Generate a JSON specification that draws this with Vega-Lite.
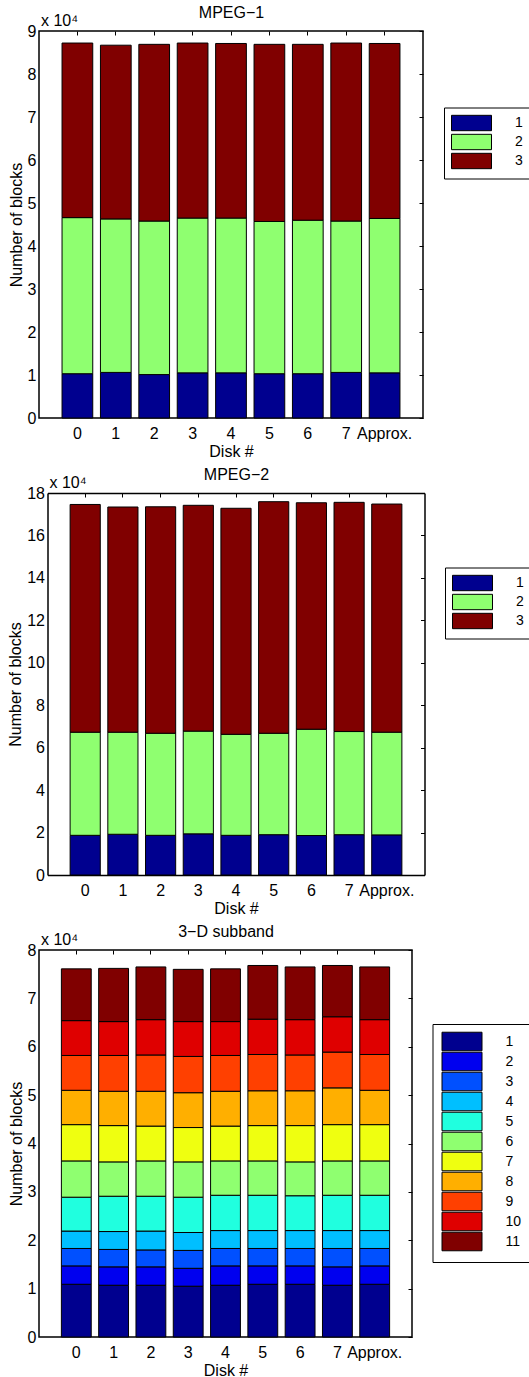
{
  "$schema": "https://vega.github.io/schema/vega-lite/v6.json",
  "background": "white",
  "padding": {"left": 7, "top": 3, "right": 5, "bottom": 2},
  "config": {
    "font": "Liberation Sans",
    "view": {"stroke": "black", "strokeWidth": 1.5},
    "bar": {"stroke": "black", "strokeWidth": 1},
    "axis": {
      "labelFont": "Liberation Sans", "titleFont": "Liberation Sans",
      "labelFontSize": 16, "titleFontSize": 16, "titleFontWeight": "normal",
      "labelColor": "black", "titleColor": "black",
      "tickColor": "black", "domainColor": "black", "domainWidth": 1.5, "tickWidth": 1, "grid": false
    },
    "legend": {
      "orient": "none", "strokeColor": "black", "fillColor": "white",
      "symbolSize": 256, "symbolStrokeColor": "black", "symbolStrokeWidth": 1, "symbolOpacity": 1,
      "labelFont": "Liberation Sans", "labelFontSize": 14, "labelColor": "black"
    }
  },
  "datasets": {
    "mpeg1": [
      {"disk": "0", "band": 1, "blocks": 10300}, {"disk": "0", "band": 2, "blocks": 36300}, {"disk": "0", "band": 3, "blocks": 40600},
      {"disk": "1", "band": 1, "blocks": 10600}, {"disk": "1", "band": 2, "blocks": 35700}, {"disk": "1", "band": 3, "blocks": 40400},
      {"disk": "2", "band": 1, "blocks": 10100}, {"disk": "2", "band": 2, "blocks": 35700}, {"disk": "2", "band": 3, "blocks": 41100},
      {"disk": "3", "band": 1, "blocks": 10500}, {"disk": "3", "band": 2, "blocks": 36000}, {"disk": "3", "band": 3, "blocks": 40700},
      {"disk": "4", "band": 1, "blocks": 10500}, {"disk": "4", "band": 2, "blocks": 36000}, {"disk": "4", "band": 3, "blocks": 40600},
      {"disk": "5", "band": 1, "blocks": 10300}, {"disk": "5", "band": 2, "blocks": 35400}, {"disk": "5", "band": 3, "blocks": 41200},
      {"disk": "6", "band": 1, "blocks": 10300}, {"disk": "6", "band": 2, "blocks": 35700}, {"disk": "6", "band": 3, "blocks": 40900},
      {"disk": "7", "band": 1, "blocks": 10600}, {"disk": "7", "band": 2, "blocks": 35200}, {"disk": "7", "band": 3, "blocks": 41400},
      {"disk": "Approx.", "band": 1, "blocks": 10500}, {"disk": "Approx.", "band": 2, "blocks": 35900}, {"disk": "Approx.", "band": 3, "blocks": 40700}
    ],
    "mpeg2": [
      {"disk": "0", "band": 1, "blocks": 18700}, {"disk": "0", "band": 2, "blocks": 48600}, {"disk": "0", "band": 3, "blocks": 107300},
      {"disk": "1", "band": 1, "blocks": 19200}, {"disk": "1", "band": 2, "blocks": 48100}, {"disk": "1", "band": 3, "blocks": 106100},
      {"disk": "2", "band": 1, "blocks": 18700}, {"disk": "2", "band": 2, "blocks": 48100}, {"disk": "2", "band": 3, "blocks": 106700},
      {"disk": "3", "band": 1, "blocks": 19400}, {"disk": "3", "band": 2, "blocks": 48400}, {"disk": "3", "band": 3, "blocks": 106400},
      {"disk": "4", "band": 1, "blocks": 18700}, {"disk": "4", "band": 2, "blocks": 47600}, {"disk": "4", "band": 3, "blocks": 106500},
      {"disk": "5", "band": 1, "blocks": 19000}, {"disk": "5", "band": 2, "blocks": 47800}, {"disk": "5", "band": 3, "blocks": 109100},
      {"disk": "6", "band": 1, "blocks": 18600}, {"disk": "6", "band": 2, "blocks": 50100}, {"disk": "6", "band": 3, "blocks": 106700},
      {"disk": "7", "band": 1, "blocks": 19000}, {"disk": "7", "band": 2, "blocks": 48600}, {"disk": "7", "band": 3, "blocks": 108000},
      {"disk": "Approx.", "band": 1, "blocks": 18900}, {"disk": "Approx.", "band": 2, "blocks": 48400}, {"disk": "Approx.", "band": 3, "blocks": 107500}
    ],
    "subband": [
      {"disk": "0", "band": 1, "blocks": 10900}, {"disk": "0", "band": 2, "blocks": 3800}, {"disk": "0", "band": 3, "blocks": 3600}, {"disk": "0", "band": 4, "blocks": 3600}, {"disk": "0", "band": 5, "blocks": 7000}, {"disk": "0", "band": 6, "blocks": 7500}, {"disk": "0", "band": 7, "blocks": 7500}, {"disk": "0", "band": 8, "blocks": 7100}, {"disk": "0", "band": 9, "blocks": 7200}, {"disk": "0", "band": 10, "blocks": 7200}, {"disk": "0", "band": 11, "blocks": 10700},
      {"disk": "1", "band": 1, "blocks": 10700}, {"disk": "1", "band": 2, "blocks": 3800}, {"disk": "1", "band": 3, "blocks": 3600}, {"disk": "1", "band": 4, "blocks": 3700}, {"disk": "1", "band": 5, "blocks": 7300}, {"disk": "1", "band": 6, "blocks": 7100}, {"disk": "1", "band": 7, "blocks": 7500}, {"disk": "1", "band": 8, "blocks": 7100}, {"disk": "1", "band": 9, "blocks": 7400}, {"disk": "1", "band": 10, "blocks": 7000}, {"disk": "1", "band": 11, "blocks": 11000},
      {"disk": "2", "band": 1, "blocks": 10700}, {"disk": "2", "band": 2, "blocks": 3800}, {"disk": "2", "band": 3, "blocks": 3500}, {"disk": "2", "band": 4, "blocks": 3900}, {"disk": "2", "band": 5, "blocks": 7200}, {"disk": "2", "band": 6, "blocks": 7300}, {"disk": "2", "band": 7, "blocks": 7200}, {"disk": "2", "band": 8, "blocks": 7200}, {"disk": "2", "band": 9, "blocks": 7500}, {"disk": "2", "band": 10, "blocks": 7300}, {"disk": "2", "band": 11, "blocks": 10900},
      {"disk": "3", "band": 1, "blocks": 10500}, {"disk": "3", "band": 2, "blocks": 3700}, {"disk": "3", "band": 3, "blocks": 3700}, {"disk": "3", "band": 4, "blocks": 3700}, {"disk": "3", "band": 5, "blocks": 7300}, {"disk": "3", "band": 6, "blocks": 7300}, {"disk": "3", "band": 7, "blocks": 7100}, {"disk": "3", "band": 8, "blocks": 7200}, {"disk": "3", "band": 9, "blocks": 7500}, {"disk": "3", "band": 10, "blocks": 7200}, {"disk": "3", "band": 11, "blocks": 10800},
      {"disk": "4", "band": 1, "blocks": 10700}, {"disk": "4", "band": 2, "blocks": 4000}, {"disk": "4", "band": 3, "blocks": 3600}, {"disk": "4", "band": 4, "blocks": 3700}, {"disk": "4", "band": 5, "blocks": 7300}, {"disk": "4", "band": 6, "blocks": 7100}, {"disk": "4", "band": 7, "blocks": 7200}, {"disk": "4", "band": 8, "blocks": 7200}, {"disk": "4", "band": 9, "blocks": 7400}, {"disk": "4", "band": 10, "blocks": 7000}, {"disk": "4", "band": 11, "blocks": 10900},
      {"disk": "5", "band": 1, "blocks": 10900}, {"disk": "5", "band": 2, "blocks": 3800}, {"disk": "5", "band": 3, "blocks": 3600}, {"disk": "5", "band": 4, "blocks": 3700}, {"disk": "5", "band": 5, "blocks": 7300}, {"disk": "5", "band": 6, "blocks": 7100}, {"disk": "5", "band": 7, "blocks": 7300}, {"disk": "5", "band": 8, "blocks": 7200}, {"disk": "5", "band": 9, "blocks": 7500}, {"disk": "5", "band": 10, "blocks": 7300}, {"disk": "5", "band": 11, "blocks": 11100},
      {"disk": "6", "band": 1, "blocks": 10900}, {"disk": "6", "band": 2, "blocks": 3800}, {"disk": "6", "band": 3, "blocks": 3600}, {"disk": "6", "band": 4, "blocks": 3700}, {"disk": "6", "band": 5, "blocks": 7200}, {"disk": "6", "band": 6, "blocks": 7000}, {"disk": "6", "band": 7, "blocks": 7500}, {"disk": "6", "band": 8, "blocks": 7200}, {"disk": "6", "band": 9, "blocks": 7400}, {"disk": "6", "band": 10, "blocks": 7300}, {"disk": "6", "band": 11, "blocks": 10900},
      {"disk": "7", "band": 1, "blocks": 10700}, {"disk": "7", "band": 2, "blocks": 3800}, {"disk": "7", "band": 3, "blocks": 3800}, {"disk": "7", "band": 4, "blocks": 3700}, {"disk": "7", "band": 5, "blocks": 7300}, {"disk": "7", "band": 6, "blocks": 7100}, {"disk": "7", "band": 7, "blocks": 7500}, {"disk": "7", "band": 8, "blocks": 7600}, {"disk": "7", "band": 9, "blocks": 7400}, {"disk": "7", "band": 10, "blocks": 7300}, {"disk": "7", "band": 11, "blocks": 10600},
      {"disk": "Approx.", "band": 1, "blocks": 10900}, {"disk": "Approx.", "band": 2, "blocks": 3800}, {"disk": "Approx.", "band": 3, "blocks": 3600}, {"disk": "Approx.", "band": 4, "blocks": 3700}, {"disk": "Approx.", "band": 5, "blocks": 7300}, {"disk": "Approx.", "band": 6, "blocks": 7100}, {"disk": "Approx.", "band": 7, "blocks": 7500}, {"disk": "Approx.", "band": 8, "blocks": 7100}, {"disk": "Approx.", "band": 9, "blocks": 7400}, {"disk": "Approx.", "band": 10, "blocks": 7200}, {"disk": "Approx.", "band": 11, "blocks": 10900}
    ]
  },
  "columns": 1,
  "spacing": 6,
  "resolve": {"scale": {"color": "independent"}, "legend": {"color": "independent"}},
  "concat": [
    {
      "data": {"name": "mpeg1"},
      "width": 384,
      "height": 387,
      "resolve": {"axis": {"x": "independent", "y": "independent"}},
      "layer": [
        {
          "mark": {"type": "bar"},
          "encoding": {
            "x": {"field": "disk", "type": "nominal",
              "scale": {"domain": ["0", "1", "2", "3", "4", "5", "6", "7", "Approx."], "paddingInner": 0.2, "paddingOuter": 0.6},
              "axis": {"orient": "bottom", "title": "Disk #", "labelAngle": 0, "ticks": false, "domain": false, "labelPadding": 7, "titlePadding": 2}},
            "y": {"field": "blocks", "type": "quantitative", "stack": "zero",
              "scale": {"domain": [0, 90000], "nice": false},
              "axis": {"orient": "left", "title": "Number of blocks", "values": [0, 10000, 20000, 30000, 40000, 50000, 60000, 70000, 80000, 90000], "labelExpr": "datum.value / 10000", "ticks": false, "domain": false, "labelPadding": 3, "titlePadding": 3}},
            "color": {"field": "band", "type": "ordinal",
              "scale": {"domain": [1, 2, 3], "range": ["#00008F", "#8FFF70", "#800000"]},
              "legend": {"title": null, "legendX": 405, "legendY": 76.5, "padding": 7, "rowPadding": -6.5, "labelOffset": 47, "symbolType": "M-1,-0.96H4V0.96H-1Z"}},
            "order": {"field": "band", "type": "quantitative", "sort": "ascending"}
          }
        },
        {
          "mark": {"type": "bar", "opacity": 0},
          "encoding": {
            "x": {"field": "disk", "type": "nominal",
              "scale": {"domain": ["0", "1", "2", "3", "4", "5", "6", "7", "Approx."], "paddingInner": 0.2, "paddingOuter": 0.6},
              "axis": {"orient": "top", "title": "MPEG−1", "labels": false, "tickSize": -4, "domain": false, "titleY": -13.5, "titleBaseline": "alphabetic"}},
            "y": {"field": "blocks", "type": "quantitative", "stack": null,
              "scale": {"domain": [0, 90000], "nice": false},
              "axis": {"orient": "right", "title": "x 10⁴", "labels": false, "values": [0, 10000, 20000, 30000, 40000, 50000, 60000, 70000, 80000, 90000], "tickSize": -4, "domain": false, "titleAngle": 0, "titleX": -382.5, "titleY": -5.3, "titleAlign": "left", "titleBaseline": "alphabetic", "titleFontSize": 16}}
          }
        }
      ]
    },
    {
      "data": {"name": "mpeg2"},
      "width": 385.5,
      "height": 382,
      "view": {"stroke": null},
      "resolve": {"axis": {"x": "independent", "y": "independent"}},
      "layer": [
        {
          "mark": {"type": "bar"},
          "encoding": {
            "x": {"field": "disk", "type": "nominal",
              "scale": {"domain": ["0", "1", "2", "3", "4", "5", "6", "7", "Approx."], "range": [8.5, 385.5], "paddingInner": 0.2, "paddingOuter": 0.6},
              "axis": {"orient": "bottom", "title": "Disk #", "labelAngle": 0, "ticks": false, "domain": true, "labelPadding": 7, "titlePadding": 2}},
            "y": {"field": "blocks", "type": "quantitative", "stack": "zero",
              "scale": {"domain": [0, 180000], "nice": false},
              "axis": {"orient": "left", "offset": -8.5, "title": "Number of blocks", "values": [0, 20000, 40000, 60000, 80000, 100000, 120000, 140000, 160000, 180000], "labelExpr": "datum.value / 10000", "ticks": false, "domain": true, "labelPadding": 3, "titlePadding": 3}},
            "color": {"field": "band", "type": "ordinal",
              "scale": {"domain": [1, 2, 3], "range": ["#00008F", "#8FFF70", "#800000"]},
              "legend": {"title": null, "legendX": 406, "legendY": 74.5, "padding": 7, "rowPadding": -6.5, "labelOffset": 47, "symbolType": "M-1,-0.96H4V0.96H-1Z"}},
            "order": {"field": "band", "type": "quantitative", "sort": "ascending"}
          }
        },
        {
          "mark": {"type": "bar", "opacity": 0},
          "encoding": {
            "x": {"field": "disk", "type": "nominal",
              "scale": {"domain": ["0", "1", "2", "3", "4", "5", "6", "7", "Approx."], "range": [8.5, 385.5], "paddingInner": 0.2, "paddingOuter": 0.6},
              "axis": {"orient": "top", "title": "MPEG−2", "labels": false, "tickSize": -4, "domain": true, "titleY": -13.5, "titleBaseline": "alphabetic"}},
            "y": {"field": "blocks", "type": "quantitative", "stack": null,
              "scale": {"domain": [0, 180000], "nice": false},
              "axis": {"orient": "right", "title": "x 10⁴", "labels": false, "values": [0, 20000, 40000, 60000, 80000, 100000, 120000, 140000, 160000, 180000], "tickSize": -4, "domain": true, "titleAngle": 0, "titleX": -375.5, "titleY": -5.3, "titleAlign": "left", "titleBaseline": "alphabetic", "titleFontSize": 16}}
          }
        }
      ]
    },
    {
      "data": {"name": "subband"},
      "width": 373,
      "height": 387,
      "resolve": {"axis": {"x": "independent", "y": "independent"}},
      "layer": [
        {
          "mark": {"type": "bar"},
          "encoding": {
            "x": {"field": "disk", "type": "nominal",
              "scale": {"domain": ["0", "1", "2", "3", "4", "5", "6", "7", "Approx."], "paddingInner": 0.2, "paddingOuter": 0.6},
              "axis": {"orient": "bottom", "title": "Disk #", "labelAngle": 0, "ticks": false, "domain": false, "labelPadding": 7, "titlePadding": 2}},
            "y": {"field": "blocks", "type": "quantitative", "stack": "zero",
              "scale": {"domain": [0, 80000], "nice": false},
              "axis": {"orient": "left", "title": "Number of blocks", "values": [0, 10000, 20000, 30000, 40000, 50000, 60000, 70000, 80000], "labelExpr": "datum.value / 10000", "ticks": false, "domain": false, "labelPadding": 3, "titlePadding": 3}},
            "color": {"field": "band", "type": "ordinal",
              "scale": {"domain": [1, 2, 3, 4, 5, 6, 7, 8, 9, 10, 11],
                "range": ["#00008F", "#0000EF", "#0050FF", "#00BFFF", "#20FFDF", "#8FFF70", "#EFFF10", "#FFAF00", "#FF4000", "#DF0000", "#800000"]},
              "legend": {"title": null, "legendX": 393.5, "legendY": 74, "padding": 9, "rowPadding": -3.3, "labelOffset": 47, "symbolType": "M-1,-1.16H4V1.16H-1Z"}},
            "order": {"field": "band", "type": "quantitative", "sort": "ascending"}
          }
        },
        {
          "mark": {"type": "bar", "opacity": 0},
          "encoding": {
            "x": {"field": "disk", "type": "nominal",
              "scale": {"domain": ["0", "1", "2", "3", "4", "5", "6", "7", "Approx."], "paddingInner": 0.2, "paddingOuter": 0.6},
              "axis": {"orient": "top", "title": "3−D subband", "labels": false, "tickSize": -4, "domain": false, "titleY": -13.5, "titleBaseline": "alphabetic"}},
            "y": {"field": "blocks", "type": "quantitative", "stack": null,
              "scale": {"domain": [0, 80000], "nice": false},
              "axis": {"orient": "right", "title": "x 10⁴", "labels": false, "values": [0, 10000, 20000, 30000, 40000, 50000, 60000, 70000, 80000], "tickSize": -4, "domain": false, "titleAngle": 0, "titleX": -371.5, "titleY": -5.3, "titleAlign": "left", "titleBaseline": "alphabetic", "titleFontSize": 16}}
          }
        }
      ]
    }
  ]
}
